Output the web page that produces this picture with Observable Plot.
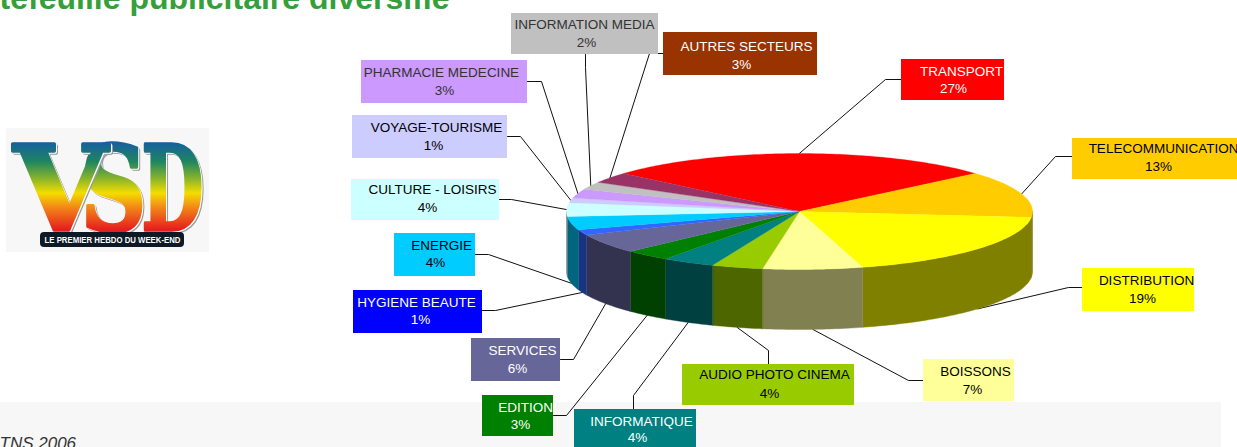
<!DOCTYPE html>
<html><head><meta charset="utf-8">
<script src="https://cdn.jsdelivr.net/npm/d3@7"></script>
<script src="https://cdn.jsdelivr.net/npm/@observablehq/plot@0.6"></script>
<style>html,body{margin:0;padding:0;background:#fff;overflow:hidden}svg{display:block}</style>
</head><body><div id="chart"></div>
<script>
// ---- data ----
const categories = ["TRANSPORT","TELECOMMUNICATION","DISTRIBUTION","BOISSONS","AUDIO PHOTO CINEMA","INFORMATIQUE","EDITION","SERVICES","HYGIENE BEAUTE","ENERGIE","CULTURE - LOISIRS","VOYAGE-TOURISME","PHARMACIE MEDECINE","INFORMATION MEDIA","AUTRES SECTEURS"];
const percentLabels = ["27%","13%","19%","7%","4%","4%","3%","6%","1%","4%","4%","1%","3%","2%","3%"];
const shares = [27.2,13.05,19,6.9,3.55,3.67,3.17,5.42,1.53,3.75,3.8,1.3,2.55,2.1,3.01];
// ---- styles ----
const topColors = ["#ff0000","#ffcc00","#ffff00","#ffff99","#99cc00","#008080","#008000","#666699","#3366ff","#00ccff","#ccffff","#ccccff","#cc99ff","#c0c0c0","#993366"];
const sideColors = ["#800000","#806600","#808000","#808050","#4d6600","#004040","#004000","#333350","#1a3380","#006680","#668080","#666680","#664d80","#606060","#4d1a33"];
const boxColors = ["#ff0000","#ffcc00","#ffff00","#ffff99","#99cc00","#008080","#008000","#666699","#0000ff","#00ccff","#ccffff","#ccccff","#cc99ff","#c0c0c0","#993300"];
const textColors = ["#fff","#000","#000","#000","#000","#fff","#fff","#fff","#fff","#000","#000","#000","#333","#333","#fff"];
// ---- layout (chart-space) ----
const pie3d = {cx:799, cy:211, rx:233, ry:58, depth:60, start:-49};
// box x1,y1,x2,y2 | label centre x of name, y of name | centre x of %, y of %
const boxes = [
 [901,59,1004,100, 961,71, 953,88],
 [1072,138,1250,179, 1163,148, 1158,166],
 [1082,268,1194,311, 1146,280, 1142,298],
 [923,359,1014,401, 975,371, 972,389],
 [682,364,854,405, 774,374, 769,393],
 [574,409,696,460, 641,421, 637,437],
 [482,395,553,436, 525,407, 520,424],
 [471,338,560,381, 522,350, 517,368],
 [353,290,482,333, 416,302, 420,319],
 [394,233,475,276, 441,245, 435,262],
 [351,179,499,220, 432,189, 427,207],
 [352,115,507,158, 436,127, 433,145],
 [361,60,527,103, 441,72, 444,90],
 [511,13,658,54, 584,24, 586,42],
 [663,32,817,75, 746,46, 741,64]
];
// leader start on box and elbow
const leaders = [
 [901,79,885,79],[1072,156,1055,156],[1082,287,1068,287],[923,380,908,380],
 [768,364,768,350],[633,409,633,395],[553,415,566,415],[560,359,573,359],
 [482,310,495,310],[475,254,488,254],[499,199,511,199],[507,136,520,136],
 [527,81,541,81],[585,54,585,67],[663,53,649,53]
];
const rad = Math.PI/180;
const arcs = d3.pie().sort(null).startAngle(pie3d.start*rad).endAngle((pie3d.start+360)*rad)(shares);
const rim = (a,dz=0)=>({x:pie3d.cx+pie3d.rx*Math.sin(a), y:pie3d.cy-pie3d.ry*Math.cos(a)+dz});
const tops=[], walls=[], lines=[];
arcs.forEach((s,i)=>{
  const n=Math.max(2,Math.ceil((s.endAngle-s.startAngle)/rad));
  const arc=d3.range(n+1).map(k=>s.startAngle+(s.endAngle-s.startAngle)*k/n);
  [{x:pie3d.cx,y:pie3d.cy},...arc.map(a=>rim(a))].forEach(p=>tops.push({...p,i}));
  // wall: the part of the rim facing the viewer (90..270 deg)
  const lo=Math.max(s.startAngle,90*rad), hi=Math.min(s.endAngle,270*rad);
  if(hi>lo){
    const m=Math.max(2,Math.ceil((hi-lo)/rad));
    const span=d3.range(m+1).map(k=>lo+(hi-lo)*k/m);
    [...span.map(a=>rim(a)),...span.slice().reverse().map(a=>rim(a,pie3d.depth))].forEach(p=>walls.push({...p,i}));
  }
  const mid=(s.startAngle+s.endAngle)/2;
  const end=rim(mid,(mid>90*rad&&mid<270*rad)?pie3d.depth:0);
  const [ax,ay,ex,ey]=leaders[i];
  [{x:ax,y:ay},{x:ex,y:ey},end].forEach(p=>lines.push({...p,i}));
});
const table=categories.map((c,i)=>({name:c,pct:percentLabels[i],b:boxes[i],fill:boxColors[i],ink:textColors[i]}));
const sans="Liberation Sans, Arial, sans-serif";
const defs=()=>{
  const ns="http://www.w3.org/2000/svg";
  const d=document.createElementNS(ns,"defs");
  d.innerHTML=`<linearGradient id="vsd" gradientUnits="userSpaceOnUse" x1="0" y1="-87" x2="0" y2="0">
   <stop offset="0" stop-color="#17609f"/><stop offset=".22" stop-color="#1f8560"/><stop offset=".42" stop-color="#8cb52a"/>
   <stop offset=".58" stop-color="#f4dd00"/><stop offset=".74" stop-color="#f38a17"/><stop offset="1" stop-color="#e51e1e"/></linearGradient>`;
  return d;
};
const letters=[["D",172],["S",113],["V",60]];
const chart=Plot.plot({
  width:1237,height:447,margin:0,
  x:{domain:[0,1237],range:[0,1237],axis:null},
  y:{domain:[0,447],range:[0,447],axis:null},
  marks:[
    defs,
    // background band
    Plot.rect([{x1:0,x2:1221,y1:402,y2:447}],{x1:"x1",x2:"x2",y1:"y1",y2:"y2",fill:"#f7f7f7"}),
    Plot.text(["Portefeuille publicitaire diversifié"],{x:()=>449,y:()=>8,text:d=>d,textAnchor:"end",lineAnchor:"bottom",fill:"#35a03a",fontWeight:"bold",fontSize:32,fontFamily:sans}),
    Plot.text(["TNS 2006"],{x:()=>-1,y:()=>448,text:d=>d,textAnchor:"start",lineAnchor:"bottom",fill:"#333",fontStyle:"italic",fontSize:17,fontFamily:sans}),
    // logo
    Plot.rect([{x1:6,x2:209,y1:128,y2:252}],{x1:"x1",x2:"x2",y1:"y1",y2:"y2",fill:"#f7f7f7"}),
    ...letters.map(([l,x])=>Plot.text([l],{x:()=>x,y:()=>229,text:d=>d,className:"logo-"+l,textAnchor:"middle",lineAnchor:"bottom",fontSize:117,fontWeight:"bold",fontFamily:"DejaVu Serif",fill:"url(#vsd)",stroke:"url(#vsd)",strokeWidth:3.5})),
    Plot.rect([{x1:40,x2:184,y1:232,y2:247}],{x1:"x1",x2:"x2",y1:"y1",y2:"y2",fill:"#0d1a26",rx:4}),
    Plot.text(["LE PREMIER HEBDO DU WEEK-END"],{x:()=>112,y:()=>239.5,text:d=>d,className:"logo-sub",fill:"#fff",fontWeight:"bold",fontSize:9.5,fontFamily:"Liberation Sans Narrow, Liberation Sans"}),
    // leaders
    Plot.line(lines,{x:"x",y:"y",z:"i",stroke:"#111",strokeWidth:1}),
    // pie walls + top
    ...sideColors.map((c,i)=>Plot.line(walls.filter(p=>p.i===i),{x:"x",y:"y",curve:"linear-closed",fill:c,stroke:c,strokeWidth:.4})),
    ...topColors.map((c,i)=>Plot.line(tops.filter(p=>p.i===i),{x:"x",y:"y",curve:"linear-closed",fill:c,stroke:c,strokeWidth:.3})),
    // label boxes
    Plot.rect(table,{x1:d=>d.b[0],y1:d=>d.b[1],x2:d=>d.b[2],y2:d=>d.b[3],fill:d=>d.fill}),
    Plot.text(table,{x:d=>d.b[4],y:d=>d.b[5],text:"name",fill:d=>d.ink,fontSize:13.5,fontFamily:sans}),
    Plot.text(table,{x:d=>d.b[6],y:d=>d.b[7],text:"pct",fill:d=>d.ink,fontSize:13.5,fontFamily:sans})
  ],
  color:{type:"identity"}
});
chart.style.background="transparent";
const lengths={V:94,S:66,D:62};
for(const [l,w] of Object.entries(lengths)){
  d3.select(chart).selectAll(".logo-"+l+" text").attr("textLength",w).attr("lengthAdjust","spacingAndGlyphs");
  d3.select(chart).selectAll("g.logo-"+l+", .logo-"+l).style("filter","drop-shadow(1.5px 1px 0 #fff) drop-shadow(1px 1px 0 #9a9a9a)");
}
d3.select(chart).selectAll(".logo-sub text").attr("textLength",136).attr("lengthAdjust","spacingAndGlyphs");
document.getElementById("chart").append(chart);
</script></body></html>
